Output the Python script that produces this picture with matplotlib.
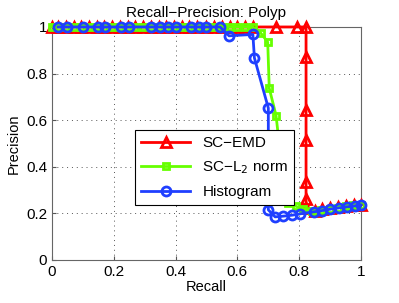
import matplotlib
matplotlib.use("Agg")
import matplotlib.pyplot as plt

plt.rcParams.update({"font.family": ["Liberation Sans", "DejaVu Sans"], "font.size": 10})

# SC-EMD
emd_recall = [0.0, 0.02, 0.045, 0.07, 0.095, 0.12, 0.145, 0.17, 0.195, 0.22, 0.245, 0.27,
              0.295, 0.32, 0.345, 0.37, 0.395, 0.42, 0.445, 0.47, 0.50, 0.525, 0.55, 0.575,
              0.60, 0.625, 0.65, 0.725, 0.793, 0.822, 0.822, 0.822, 0.822, 0.822, 0.822,
              0.822, 0.85, 0.875, 0.90, 0.925, 0.95, 0.978, 1.0]
emd_prec = [1.0] * 30 + [0.87, 0.645, 0.515, 0.335, 0.26, 0.222,
                         0.212, 0.218, 0.222, 0.228, 0.232, 0.236, 0.238]

# SC-L2 norm
l2_recall = [0.0, 0.02, 0.045, 0.07, 0.095, 0.12, 0.145, 0.17, 0.195, 0.22, 0.245, 0.27,
             0.295, 0.32, 0.345, 0.37, 0.395, 0.42, 0.445, 0.47, 0.50, 0.525, 0.55, 0.575,
             0.60, 0.625, 0.65, 0.675, 0.698, 0.703, 0.725, 0.735, 0.738, 0.738, 0.738,
             0.738, 0.738, 0.745, 0.765, 0.79, 0.812, 0.84, 0.87, 0.90, 0.925, 0.95,
             0.975, 1.0]
l2_prec = [1.0] * 27 + [0.975, 0.935, 0.737, 0.62, 0.50, 0.45, 0.41, 0.37, 0.33, 0.29,
                        0.26, 0.245, 0.23, 0.22, 0.212, 0.215, 0.22, 0.225, 0.23,
                        0.234, 0.237]

# Histogram
hist_recall = [0.02, 0.048, 0.10, 0.15, 0.172, 0.222, 0.248, 0.322, 0.35, 0.375, 0.40,
               0.45, 0.476, 0.50, 0.544, 0.573, 0.65, 0.655, 0.70, 0.70, 0.722, 0.748,
               0.776, 0.803, 0.848, 0.874, 0.90, 0.927, 0.954, 0.98, 1.0]
hist_prec = [1.0] * 15 + [0.962, 0.968, 0.867, 0.652, 0.215, 0.185, 0.188, 0.192, 0.198,
                          0.207, 0.212, 0.218, 0.223, 0.228, 0.232, 0.236]

fig = plt.figure(figsize=(3.99, 3.03), dpi=100)
ax = fig.add_axes([0.130, 0.142, 0.775, 0.769])

ax.plot(emd_recall, emd_prec, color="#ff0000", lw=2, marker="^", ms=7,
        mfc="none", mew=2, clip_on=False, label="SC\u2212EMD", zorder=3)
ax.plot(l2_recall, l2_prec, color="#66ff00", lw=2, marker="s", ms=5,
        mfc="none", mew=2, clip_on=False, label="SC\u2212L$_2$ norm", zorder=4)
ax.plot(hist_recall, hist_prec, color="#1f3fff", lw=2, marker="o", ms=6.5,
        mfc="none", mew=2, clip_on=False, label="Histogram", zorder=5)

ax.set_xlim(0, 1)
ax.set_ylim(0, 1)
ticks = [0, 0.2, 0.4, 0.6, 0.8, 1]
ax.set_xticks(ticks)
ax.set_yticks(ticks)
ax.set_xticklabels(["0", "0.2", "0.4", "0.6", "0.8", "1"])
ax.set_yticklabels(["0", "0.2", "0.4", "0.6", "0.8", "1"])
ax.tick_params(direction="in", length=3, color="#555555", labelsize=11)
for s in ax.spines.values():
    s.set_color("#666666")
ax.grid(True, linestyle=(0, (1, 4)), color="#555555", lw=0.7)
ax.set_axisbelow(True)

ax.set_title("Recall\u2212Precision: Polyp", fontsize=11, pad=7)
ax.set_xlabel("Recall", fontsize=10.5, labelpad=1)
ax.set_ylabel("Precision", fontsize=10.5, labelpad=4)

leg = ax.legend(loc="upper left", bbox_to_anchor=(0.269, 0.558), borderaxespad=0,
                fontsize=11, frameon=True, fancybox=False, edgecolor="black",
                framealpha=1, handlelength=3.2, borderpad=0.4, labelspacing=0.6)
leg.get_frame().set_linewidth(0.8)
leg.set_zorder(10)

fig.savefig("out.png", dpi=100)
